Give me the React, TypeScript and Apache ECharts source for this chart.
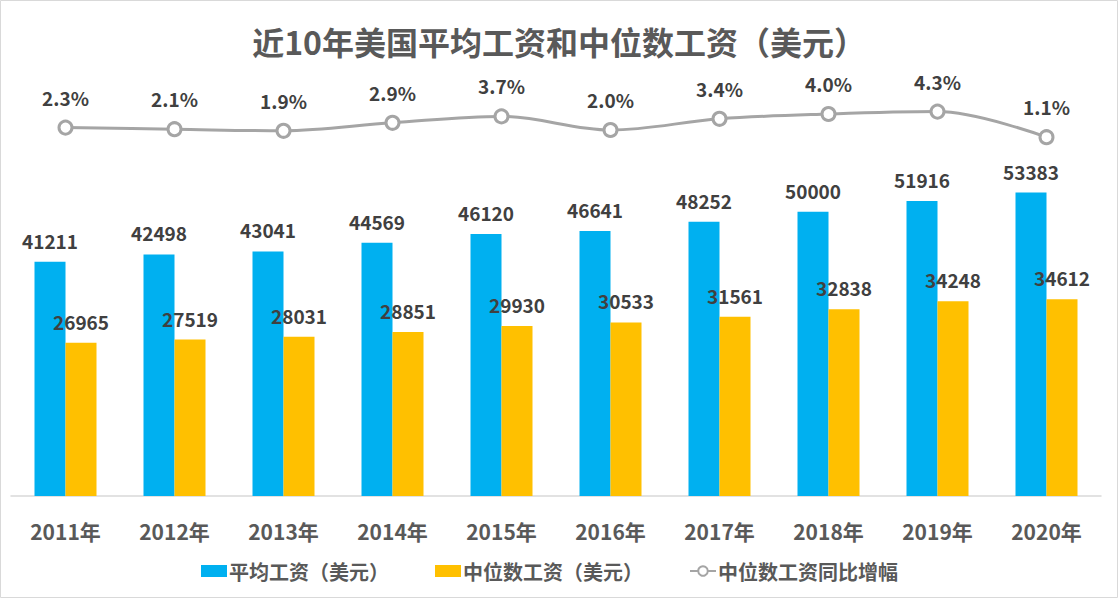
import React, { useEffect, useRef } from "react";
import * as echarts from "echarts";

const years = ["2011年", "2012年", "2013年", "2014年", "2015年", "2016年", "2017年", "2018年", "2019年", "2020年"];
const avgWage = [41211, 42498, 43041, 44569, 46120, 46641, 48252, 50000, 51916, 53383];
const medianWage = [26965, 27519, 28031, 28851, 29930, 30533, 31561, 32838, 34248, 34612];
const medianGrowth = [2.3, 2.1, 1.9, 2.9, 3.7, 2.0, 3.4, 4.0, 4.3, 1.1];

const FONT = '"Noto Sans CJK SC", "Noto Sans", sans-serif';

export default function App() {
  const ref = useRef<HTMLDivElement>(null);
  useEffect(() => {
    document.body.style.margin = "0";
    const chart = echarts.init(ref.current!, null, { renderer: "svg" });
    chart.setOption({
      animation: false,
      backgroundColor: "#ffffff",
      textStyle: { fontFamily: FONT },
      title: {
        text: "近10年美国平均工资和中位数工资（美元）",
        left: "center",
        top: 20,
        textStyle: { fontFamily: FONT, fontSize: 32, fontWeight: "bold", color: "#595959" },
      },
      graphic: [
        {
          type: "rect",
          shape: { x: 0.5, y: 0.5, width: 1117, height: 597 },
          style: { fill: "none", stroke: "#D9D9D9", lineWidth: 1 },
          silent: true,
        },
      ],
      legend: {
        left: 201,
        top: 561,
        padding: 0,
        itemGap: 46,
        itemWidth: 26,
        itemHeight: 12,
        textStyle: { fontFamily: FONT, fontSize: 20, fontWeight: "bold", color: "#595959", padding: [0, 0, 0, -3] },
        data: [
          { name: "平均工资（美元）", icon: "rect" },
          { name: "中位数工资（美元）", icon: "rect" },
          { name: "中位数工资同比增幅" },
        ],
      },
      grid: [
        { left: 11, right: 17, top: 155, bottom: 102, containLabel: false },
        { left: 11, right: 17, top: 102, bottom: 452, containLabel: false },
      ],
      xAxis: [
        {
          type: "category",
          gridIndex: 0,
          data: years,
          axisLine: { lineStyle: { color: "#D9D9D9", width: 1.5 } },
          axisTick: { show: false },
          axisLabel: { margin: 24, fontFamily: FONT, fontSize: 21, fontWeight: "bold", color: "#595959" },
        },
        {
          type: "category",
          gridIndex: 1,
          data: years,
          show: false,
        },
      ],
      yAxis: [
        { type: "value", gridIndex: 0, min: 0, max: 60000, show: false, splitLine: { show: false } },
        { type: "value", gridIndex: 1, min: 0, max: 5.5, show: false, splitLine: { show: false } },
      ],
      series: [
        {
          name: "平均工资（美元）",
          type: "bar",
          xAxisIndex: 0,
          yAxisIndex: 0,
          data: avgWage,
          barWidth: 31,
          barGap: "0%",
          itemStyle: { color: "#00B0F0" },
          label: {
            show: true,
            position: "top",
            distance: 12,
            fontFamily: FONT,
            fontSize: 19,
            fontWeight: "bold",
            color: "#404040",
          },
        },
        {
          name: "中位数工资（美元）",
          type: "bar",
          xAxisIndex: 0,
          yAxisIndex: 0,
          data: medianWage,
          barWidth: 31,
          barGap: "0%",
          itemStyle: { color: "#FFC000" },
          label: {
            show: true,
            position: "top",
            distance: 12,
            fontFamily: FONT,
            fontSize: 19,
            fontWeight: "bold",
            color: "#404040",
          },
        },
        {
          name: "中位数工资同比增幅",
          type: "line",
          xAxisIndex: 1,
          yAxisIndex: 1,
          data: medianGrowth,
          smooth: 0.35,
          symbol: "circle",
          symbolSize: 13,
          lineStyle: { color: "#A5A5A5", width: 3 },
          itemStyle: { color: "#ffffff", borderColor: "#A5A5A5", borderWidth: 3 },
          label: {
            show: true,
            position: "top",
            distance: 13,
            formatter: (p: any) => Number(p.value).toFixed(1) + "%",
            fontFamily: FONT,
            fontSize: 19,
            fontWeight: "bold",
            color: "#404040",
          },
        },
      ],
    });
    return () => chart.dispose();
  }, []);
  return <div ref={ref} style={{ width: 1118, height: 598 }} />;
}
